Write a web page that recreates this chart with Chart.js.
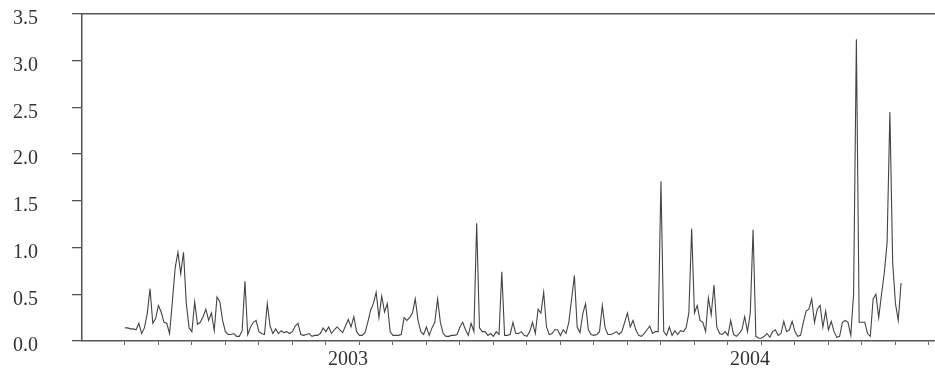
<!DOCTYPE html>
<html>
<head>
<meta charset="utf-8">
<script src="https://cdn.jsdelivr.net/npm/chart.js@4"></script>
<style>
  html, body { margin: 0; padding: 0; background: #fff; }
  #chart { display: block; }
</style>
</head>
<body>
<canvas id="chart" width="935" height="370"></canvas>
<script>
// months are counted from Jan 2002 (0 = Jan 2002, 12 = Jan 2003 ...)
const START_MONTH = 6;        // series begins July 2002
const STEP = 1 / 12;          // one sample every 1/12 month
const X_MIN = 4.72;
const X_MAX = 30.18;

const yearTicks = [12, 24];
const yearLabels = ['2003', '2004'];

const Y_MIN = 0;
const Y_MAX = 3.5;
const Y_STEP = 0.5;

const values = [
  0.14, 0.14, 0.13, 0.13, 0.12, 0.19, 0.08, 0.14, 0.29, 0.56,
  0.19, 0.24, 0.38, 0.31, 0.20, 0.19, 0.08, 0.42, 0.78, 0.95,
  0.72, 0.95, 0.40, 0.14, 0.10, 0.42, 0.18, 0.20, 0.26, 0.34,
  0.22, 0.30, 0.11, 0.47, 0.42, 0.22, 0.10, 0.07, 0.07, 0.08,
  0.05, 0.05, 0.11, 0.64, 0.07, 0.15, 0.20, 0.22, 0.10, 0.08,
  0.07, 0.40, 0.16, 0.08, 0.13, 0.08, 0.11, 0.09, 0.10, 0.08,
  0.10, 0.16, 0.19, 0.07, 0.06, 0.07, 0.08, 0.05, 0.06, 0.06,
  0.08, 0.14, 0.10, 0.15, 0.08, 0.12, 0.15, 0.12, 0.09, 0.16,
  0.23, 0.15, 0.26, 0.10, 0.06, 0.06, 0.09, 0.20, 0.33, 0.40,
  0.52, 0.25, 0.48, 0.31, 0.40, 0.10, 0.06, 0.06, 0.06, 0.07,
  0.25, 0.22, 0.25, 0.30, 0.45, 0.22, 0.10, 0.07, 0.15, 0.06,
  0.14, 0.20, 0.45, 0.20, 0.08, 0.05, 0.05, 0.06, 0.06, 0.07,
  0.15, 0.20, 0.12, 0.06, 0.19, 0.10, 1.26, 0.14, 0.10, 0.10,
  0.06, 0.08, 0.05, 0.10, 0.07, 0.74, 0.06, 0.06, 0.07, 0.20,
  0.08, 0.08, 0.10, 0.06, 0.05, 0.10, 0.20, 0.08, 0.34, 0.30,
  0.52, 0.15, 0.07, 0.08, 0.12, 0.12, 0.06, 0.12, 0.08, 0.20,
  0.45, 0.70, 0.15, 0.09, 0.29, 0.40, 0.12, 0.07, 0.06, 0.07,
  0.10, 0.38, 0.14, 0.07, 0.07, 0.08, 0.10, 0.07, 0.10, 0.20,
  0.30, 0.15, 0.22, 0.12, 0.06, 0.05, 0.08, 0.12, 0.16, 0.08,
  0.10, 0.10, 1.71, 0.10, 0.06, 0.15, 0.06, 0.11, 0.07, 0.11,
  0.10, 0.14, 0.30, 1.20, 0.30, 0.38, 0.22, 0.20, 0.10, 0.46,
  0.28, 0.60, 0.15, 0.08, 0.07, 0.10, 0.06, 0.22, 0.07, 0.05,
  0.08, 0.12, 0.26, 0.10, 0.30, 1.19, 0.05, 0.03, 0.03, 0.05,
  0.08, 0.04, 0.10, 0.12, 0.06, 0.08, 0.21, 0.10, 0.12, 0.21,
  0.10, 0.05, 0.06, 0.20, 0.32, 0.34, 0.45, 0.20, 0.34, 0.38,
  0.15, 0.32, 0.12, 0.21, 0.10, 0.04, 0.05, 0.20, 0.22, 0.20,
  0.06, 0.50, 3.23, 0.20, 0.20, 0.20, 0.08, 0.05, 0.45, 0.50,
  0.25, 0.50, 0.73, 1.05, 2.45, 0.84, 0.40, 0.22, 0.62
];

const points = values.map((v, i) => ({ x: START_MONTH + i * STEP, y: v }));

const AXIS_COLOR = '#555';
const TEXT_COLOR = '#333';
const SERIF = "'Liberation Serif', 'DejaVu Serif', serif";

new Chart(document.getElementById('chart'), {
  type: 'line',
  data: {
    datasets: [{
      data: points,
      borderColor: '#444',
      borderWidth: 1.1,
      pointRadius: 0,
      tension: 0,
      fill: false,
    }],
  },
  options: {
    responsive: false,
    animation: false,
    parsing: false,
    layout: { autoPadding: false, padding: { top: 14, right: 0, bottom: 0, left: 0 } },
    plugins: { legend: { display: false }, tooltip: { enabled: false } },
    scales: {
      x: {
        type: 'linear',
        position: 'bottom',
        min: X_MIN, max: X_MAX,
        afterFit: s => { s.height = 29; s.paddingLeft = 0; s.paddingRight = 0; },
        afterBuildTicks: s => { s.ticks = s.ticks.filter(t => t.value >= START_MONTH); },
        grid: { drawOnChartArea: false, drawTicks: true, tickLength: 4, color: '#666', lineWidth: 1 },
        border: { display: true, color: AXIS_COLOR, width: 1.5 },
        ticks: {
          stepSize: 1, includeBounds: false, autoSkip: false, maxRotation: 0,
          padding: 5, labelOffset: 22,
          color: TEXT_COLOR, font: { family: SERIF, size: 20, lineHeight: 1 },
          callback: v => {
            const k = yearTicks.indexOf(v);
            return k >= 0 ? yearLabels[k] : '';
          },
        },
      },
      x2: {
        type: 'linear',
        position: 'top',
        min: X_MIN, max: X_MAX,
        afterFit: s => { s.height = 0; },
        grid: { display: false },
        border: { display: true, color: AXIS_COLOR, width: 1.5 },
        ticks: { display: false },
      },
      y: {
        min: Y_MIN, max: Y_MAX,
        // labels sit far from the axis, so keep their padding out of the layout
        afterFit: s => { s.width = 82; s.paddingTop = 0; s.paddingBottom = 0; },
        grid: { drawOnChartArea: false, drawTicks: true, tickLength: 10, color: AXIS_COLOR, lineWidth: 1.3 },
        border: { display: true, color: AXIS_COLOR, width: 1.5 },
        ticks: {
          stepSize: Y_STEP, padding: 34, labelOffset: 5,
          color: TEXT_COLOR, font: { family: SERIF, size: 20 },
          callback: v => v.toFixed(1),
        },
      },
    },
  },
});
</script>
</body>
</html>
